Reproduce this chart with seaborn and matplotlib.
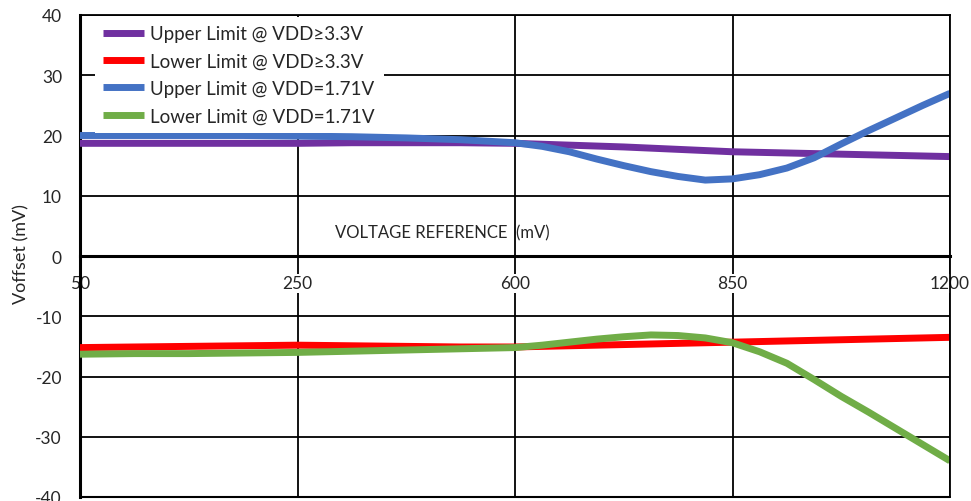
import numpy as np
import pandas as pd
import matplotlib.pyplot as plt
import seaborn as sns

# ---------------------------------------------
# Data (x = category position, finer steps where curves bend)
# ---------------------------------------------
vref_labels = ['50', '250', '600', '850', '1200']   # VOLTAGE REFERENCE (mV)
pos = [0, 0.25, 0.5, 0.75, 1, 1.25, 1.5, 1.75,
       2, 2.125, 2.25, 2.375, 2.5, 2.625, 2.75, 2.875,
       3, 3.125, 3.25, 3.375, 3.5, 3.625, 3.75, 3.875, 4]

upper_33 = [18.7, 18.7, 18.7, 18.7, 18.7, 18.8, 18.8, 18.8,
            18.7, 18.55, 18.4, 18.25, 18.1, 17.9, 17.7, 17.5,
            17.3, 17.2, 17.1, 17.0, 16.9, 16.8, 16.7, 16.6, 16.5]
lower_33 = [-15.2, -15.1, -15.0, -14.9, -14.8, -14.9, -15.0, -15.1,
            -15.1, -15.0, -14.9, -14.8, -14.7, -14.6, -14.5, -14.4,
            -14.3, -14.2, -14.1, -14.0, -13.9, -13.8, -13.7, -13.6, -13.5]
upper_171 = [20.0, 20.0, 20.0, 20.0, 19.9, 19.8, 19.6, 19.3,
             18.8, 18.2, 17.3, 16.1, 15.0, 14.0, 13.2, 12.6,
             12.8, 13.5, 14.6, 16.3, 18.6, 20.8, 22.9, 25.0, 27.0]
lower_171 = [-16.3, -16.2, -16.2, -16.1, -16.0, -15.8, -15.6, -15.4,
             -15.2, -14.8, -14.3, -13.8, -13.4, -13.1, -13.2, -13.6,
             -14.4, -15.9, -17.8, -20.5, -23.3, -25.9, -28.6, -31.3, -34.0]

series = [
    ('Upper Limit @ VDD\u22653.3V', upper_33, '#7030A0'),
    ('Lower Limit @ VDD\u22653.3V', lower_33, '#FF0000'),
    ('Upper Limit @ VDD=1.71V', upper_171, '#4472C4'),
    ('Lower Limit @ VDD=1.71V', lower_171, '#70AD47'),
]

# ---------------------------------------------
# Style
# ---------------------------------------------
sns.set_style('white')
plt.rcParams['font.family'] = ['Lato', 'DejaVu Sans']
plt.rcParams['axes.unicode_minus'] = False

fig = plt.figure(figsize=(9.71, 5.02), dpi=100)
ax = fig.add_axes([80 / 971, 4 / 502, 870 / 971, 482 / 502])

for name, vals, col in series:
    sns.lineplot(x=pos, y=vals, color=col, lw=5, label=name, ax=ax,
                 solid_joinstyle='round', solid_capstyle='butt')

# ---------------------------------------------
# Axes
# ---------------------------------------------
ax.set_xlim(0, len(vref_labels) - 1)
ax.set_ylim(-40, 40)
ax.set_yticks(range(-40, 41, 10))
ax.set_xticks(range(len(vref_labels)))
ax.set_xticklabels(vref_labels)
ax.set_xticks(np.arange(len(vref_labels) - 1) + 0.5, minor=True)

ax.grid(True, which='major', color='black', lw=1.3)

ax.spines['bottom'].set_position(('data', 0))
ax.spines['bottom'].set_linewidth(2.2)
ax.spines['left'].set_linewidth(2.2)
ax.spines['left'].set_zorder(1)
for s in ['top', 'right']:
    ax.spines[s].set_linewidth(1.3)
    ax.spines[s].set_color('black')
ax.spines['bottom'].set_color('black')
ax.spines['left'].set_color('black')
ax.axhline(-40, color='black', lw=1.5, clip_on=False)

ax.tick_params(axis='y', length=0, pad=13, labelsize=12.5)
ax.tick_params(axis='x', which='major', length=0, pad=14, labelsize=12.5)
ax.tick_params(axis='x', which='minor', direction='inout', length=8,
               width=2.2, color='black')
for lbl in ax.get_xticklabels():
    lbl.set_bbox(dict(facecolor='white', edgecolor='none', pad=1))

ax.set_xlabel('VOLTAGE REFERENCE  (mV)', fontsize=12)
ax.xaxis.set_label_coords(0.417, 0.55)
ax.xaxis.label.set_va('center')
ax.set_ylabel('Voffset (mV)', fontsize=13)
ax.yaxis.set_label_coords(-0.058, 0.507)

leg = ax.legend(loc='upper left', bbox_to_anchor=(0.017, 0.996), frameon=True,
                facecolor='white', edgecolor='none', framealpha=1, fancybox=False,
                fontsize=13.5, handlelength=2.2, handletextpad=0.32,
                labelspacing=0.55, borderaxespad=0, borderpad=0.45)
leg.set_zorder(5)

plt.savefig('out.png', dpi=100)
